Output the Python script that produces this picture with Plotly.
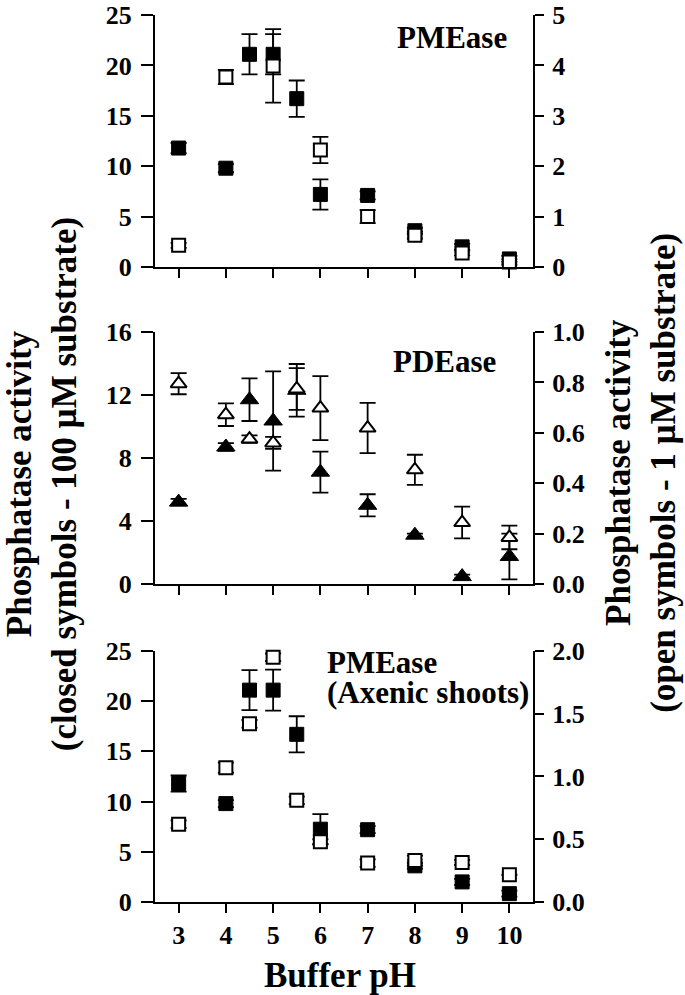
import plotly.graph_objects as go

# ---- data ----
ph_full = [3, 4, 4.5, 5, 5.5, 6, 7, 8, 9, 10]
ph_int = [3, 4, 5, 6, 7, 8, 9, 10]

# Panel 1: PMEase
pme_closed = [11.8, 9.8, 21.1, 21.1, 16.7, 7.2, 7.1, 3.6, 2.0, 0.8]
pme_closed_err = [0.5, 0.4, 2.0, 2.0, 1.8, 1.5, 0.4, 0.3, 0.3, 0.3]
pme_open = [0.43, 3.77, 3.99, 2.32, 1.0, 0.63, 0.28, 0.1]
pme_open_err = [0.05, 0.14, 0.73, 0.26, 0.13, 0.07, 0.05, 0.05]

# Panel 2: PDEase
pde_closed = [5.2, 8.7, 11.7, 10.35, 12.3, 7.1, 5.0, 3.1, 0.47, 1.75]
pde_closed_err = [0.2, 0.25, 1.35, 3.15, 1.67, 1.3, 0.7, 0.1, 0.12, 1.45]
pde_open = [0.795, 0.672, 0.575, 0.56, 0.774, 0.698, 0.619, 0.453, 0.244, 0.185]
pde_open_err = [0.042, 0.045, 0.015, 0.024, 0.083, 0.127, 0.10, 0.06, 0.063, 0.047]

# Panel 3: PMEase (Axenic shoots)
ax_closed = [11.8, 9.8, 21.1, 21.1, 16.7, 7.25, 7.2, 3.6, 2.0, 0.83]
ax_closed_err = [0.8, 0.35, 2.0, 2.05, 1.8, 1.5, 0.35, 0.3, 0.3, 0.3]
ax_open = [0.62, 1.07, 1.42, 1.95, 0.81, 0.48, 0.31, 0.33, 0.315, 0.217]
ax_open_err = [0.03, 0.04, 0.03, 0.03, 0.03, 0.02, 0.03, 0.04, 0.02, 0.0]

x_ticks = [3, 4, 5, 6, 7, 8, 9, 10]
left_ticks = [[0, 5, 10, 15, 20, 25], [0, 4, 8, 12, 16], [0, 5, 10, 15, 20, 25]]
right_ticks = [[0, 1, 2, 3, 4, 5], [0.0, 0.2, 0.4, 0.6, 0.8, 1.0], [0.0, 0.5, 1.0, 1.5, 2.0]]

FONT = "Liberation Serif"
BLACK = "black"


def err(arr):
    return dict(type="data", array=arr, visible=True, color=BLACK,
                thickness=1.8, width=8)


def closed_trace(x, y, e, sym, xa, ya, size):
    return go.Scatter(x=x, y=y, mode="markers", xaxis=xa, yaxis=ya,
                      marker=dict(symbol=sym, size=size, color=BLACK,
                                  line=dict(color=BLACK, width=1)),
                      error_y=err(e), showlegend=False, cliponaxis=False)


def open_trace(x, y, e, sym, xa, ya, size):
    return go.Scatter(x=x, y=y, mode="markers", xaxis=xa, yaxis=ya,
                      marker=dict(symbol=sym, size=size, color="white",
                                  line=dict(color=BLACK, width=2)),
                      error_y=err(e), showlegend=False, cliponaxis=False)


fig = go.Figure()
fig.add_trace(closed_trace(ph_full, pme_closed, pme_closed_err, "square", "x", "y", 14))
fig.add_trace(open_trace(ph_int, pme_open, pme_open_err, "square", "x", "y2", 13))
fig.add_trace(closed_trace(ph_full, pde_closed, pde_closed_err, "triangle-up", "x2", "y3", 16))
fig.add_trace(open_trace(ph_full, pde_open, pde_open_err, "triangle-up", "x2", "y4", 14))
fig.add_trace(closed_trace(ph_full, ax_closed, ax_closed_err, "square", "x3", "y5", 14))
fig.add_trace(open_trace(ph_full, ax_open, ax_open_err, "square", "x3", "y6", 13))

tickfont = dict(family=FONT, size=26, color=BLACK, weight="bold")

domains = [[0.7159, 1.0], [0.3585, 0.6426], [0.0, 0.283]]
left_ranges = [[0, 25], [0, 16], [0, 25]]
right_ranges = [[0, 5], [0, 1], [0, 2]]
right_formats = ["d", ".1f", ".1f"]

layout = dict(
    template="none",
    width=685, height=995,
    margin=dict(l=155, r=152, t=15, b=93, autoexpand=False),
    paper_bgcolor="white", plot_bgcolor="white",
    showlegend=False,
)

for i in range(3):
    xname = "xaxis" if i == 0 else f"xaxis{i+1}"
    yl = 2 * i + 1
    yr = 2 * i + 2
    ylname = "yaxis" if yl == 1 else f"yaxis{yl}"
    yrname = f"yaxis{yr}"
    layout[xname] = dict(
        domain=[0, 1], anchor="y" if yl == 1 else f"y{yl}",
        range=[2.5, 10.5], tickvals=x_ticks, ticks="outside", ticklen=9,
        tickwidth=2, tickcolor=BLACK, showline=True, linecolor=BLACK,
        linewidth=2, showgrid=False, zeroline=False, automargin=False,
        showticklabels=(i == 2), tickfont=tickfont,
    )
    if i > 0:
        layout[xname]["matches"] = "x"
    layout[ylname] = dict(
        domain=domains[i], anchor="x" if i == 0 else f"x{i+1}",
        range=left_ranges[i], tickvals=left_ticks[i], ticks="outside",
        ticklen=12, tickwidth=2, tickcolor=BLACK, showline=True,
        linecolor=BLACK, linewidth=2, showgrid=False, zeroline=False,
        tickfont=tickfont, ticklabelstandoff=4, automargin=False,
        ticklabeloverflow="allow",
    )
    layout[yrname] = dict(
        overlaying="y" if yl == 1 else f"y{yl}", side="right",
        anchor="x" if i == 0 else f"x{i+1}",
        range=right_ranges[i], tickvals=right_ticks[i],
        tickformat=right_formats[i], ticks="outside",
        ticklen=9, tickwidth=2, tickcolor=BLACK, showline=True,
        linecolor=BLACK, linewidth=2, showgrid=False, zeroline=False,
        tickfont=tickfont, ticklabelstandoff=3, automargin=False,
        ticklabeloverflow="allow",
    )

fig.update_layout(**layout)

title_font = dict(family=FONT, size=35, color=BLACK)
label_font = dict(family=FONT, size=31, color=BLACK)

annotations = [
    dict(text="<b>Phosphatase activity</b><br><b>(closed symbols - 100 µM substrate)</b>",
         x=-0.2989, y=0.471, xref="paper", yref="paper", textangle=-90,
         showarrow=False, xanchor="center", yanchor="middle", font=title_font),
    dict(text="<b>Phosphatase activity</b><br><b>(open symbols - 1 µM substrate)</b>",
         x=1.288, y=0.4837, xref="paper", yref="paper", textangle=-90,
         showarrow=False, xanchor="center", yanchor="middle", font=title_font),
    dict(text="<b>Buffer pH</b>", x=0.4894, y=-0.0823, xref="paper", yref="paper",
         showarrow=False, xanchor="center", yanchor="middle", font=title_font),
    dict(text="<b>PMEase</b>", x=0.786, y=0.9751, xref="paper", yref="paper",
         showarrow=False, xanchor="center", yanchor="middle", font=label_font),
    dict(text="<b>PDEase</b>", x=0.7646, y=0.6089, xref="paper", yref="paper",
         showarrow=False, xanchor="center", yanchor="middle", font=label_font),
    dict(text="<b>PMEase</b>", x=0.4497, y=0.270,
         xref="paper", yref="paper", showarrow=False, xanchor="left",
         yanchor="middle", align="left", font=label_font),
    dict(text="<b>(Axenic shoots)</b>", x=0.4497, y=0.2362,
         xref="paper", yref="paper", showarrow=False, xanchor="left",
         yanchor="middle", align="left", font=label_font),
]
fig.update_layout(annotations=annotations)

# remove the default 8px page margin so the figure fills the window exactly
fig.write_html("out.html", config={"displayModeBar": False},
               post_script="document.body.style.margin='0px';")
